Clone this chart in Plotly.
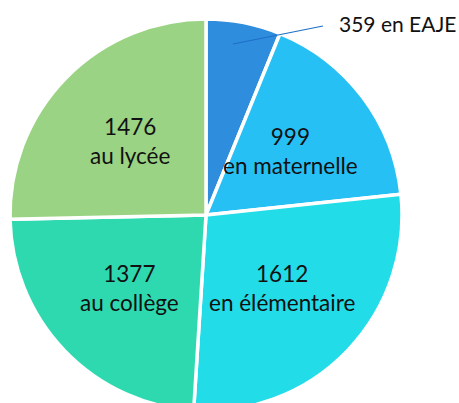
import math
import plotly.graph_objects as go

categories = ["en EAJE", "en maternelle", "en élémentaire", "au collège", "au lycée"]
values = [359, 999, 1612, 1377, 1476]
colors = ["#2E8DDC", "#27C0F5", "#22DCE8", "#2ED9B0", "#9AD384"]

FONT = dict(family="Lato, Liberation Sans, sans-serif", size=22.5, color="#111111")

fig = go.Figure(go.Pie(
    labels=categories,
    values=values,
    textinfo="none",
    sort=False,
    direction="clockwise",
    rotation=0,
    marker=dict(colors=colors, line=dict(color="white", width=3.5)),
    showlegend=False,
    hoverinfo="label+value",
))

# in-slice labels placed along each slice's mid-angle (computed from the data)
total = sum(values)
cum = 0
label_r = 0.27  # paper units (pie radius = 0.5)
for v, c in zip(values, categories):
    mid = (cum + v / 2) / total * 2 * math.pi
    cum += v
    if c == "en EAJE":
        continue
    fig.add_annotation(xref="paper", yref="paper",
                       x=0.5 + label_r * math.sin(mid), y=0.5 + label_r * math.cos(mid),
                       xanchor="center", yanchor="middle", showarrow=False,
                       text=f"{v}<br>{c}", font=FONT)

# leader line + outside label for the small slice
fig.add_shape(type="line", xref="paper", yref="paper",
              x0=(233 - 10) / 392, y0=1 - (44 - 19) / 392,
              x1=(323 - 10) / 392, y1=1 - (26 - 19) / 392,
              line=dict(color="#1F6FC8", width=1.2))
fig.add_annotation(xref="paper", yref="paper",
                   x=(337 - 10) / 392, y=1 - (24 - 19) / 392,
                   xanchor="left", yanchor="middle", showarrow=False,
                   text=f"{values[0]} {categories[0]}",
                   font=dict(FONT, size=21))

fig.update_layout(
    width=459, height=411,
    margin=dict(l=10, r=57, t=19, b=0),
    paper_bgcolor="white", plot_bgcolor="white",
)

fig.write_html("out.html", config={"displayModeBar": False},
               post_script="document.body.style.margin='0';document.body.style.overflow='hidden';document.documentElement.style.overflow='hidden';")
